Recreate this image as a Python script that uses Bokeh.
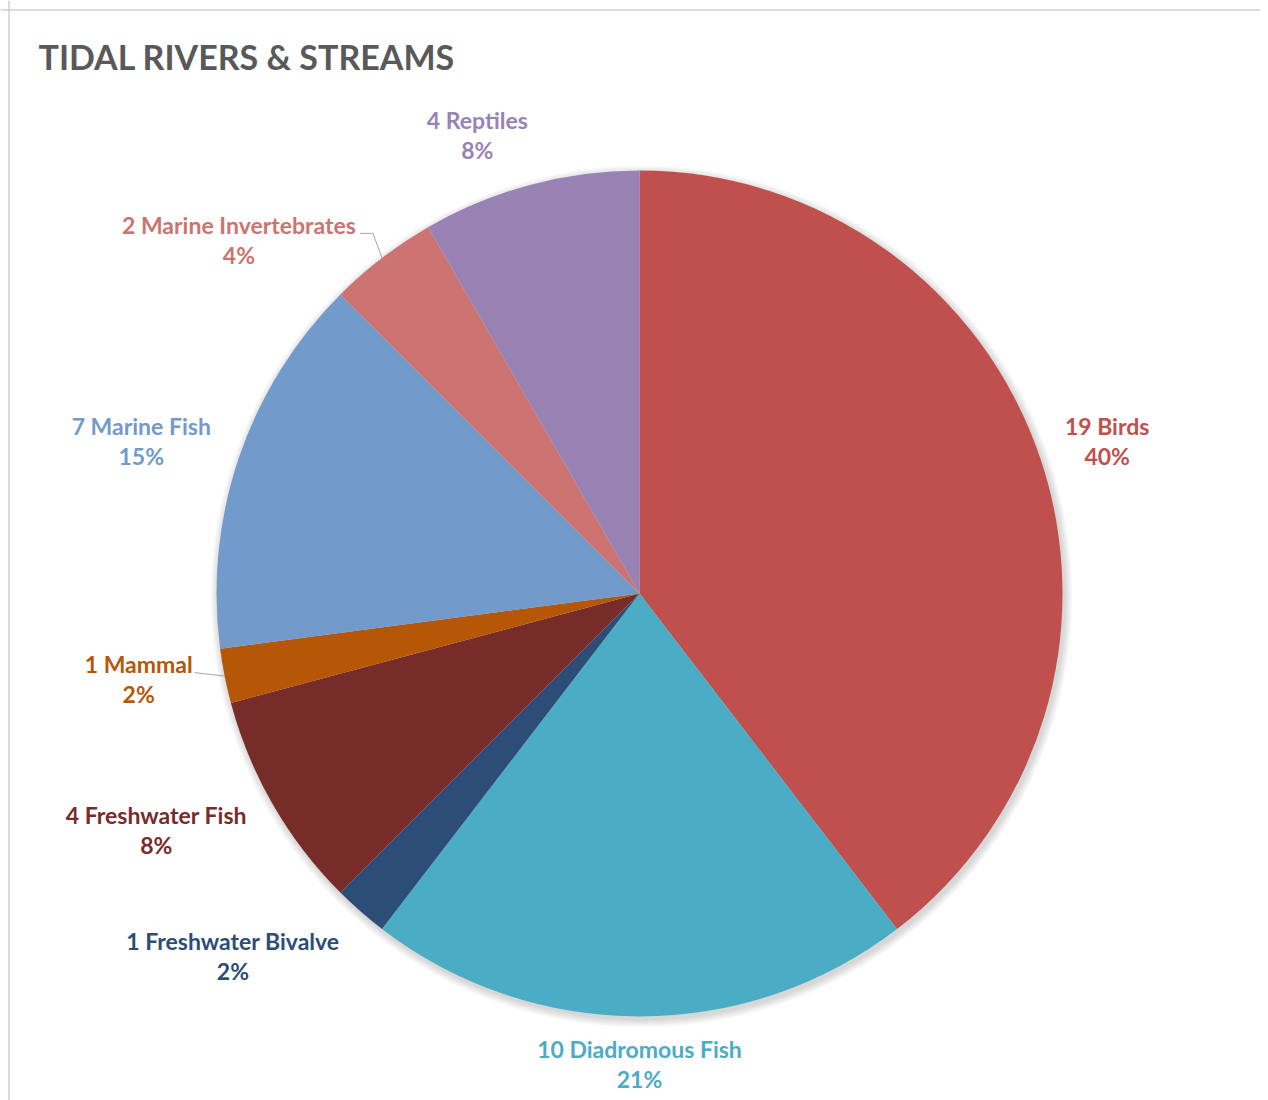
import math
from bokeh.plotting import figure
from bokeh.models import Range1d, Span
from bokeh.core.properties import value
from bokeh.embed import file_html
from bokeh.resources import INLINE

# ---- data ----
categories = ["Birds", "Diadromous Fish", "Freshwater Bivalve", "Freshwater Fish",
              "Mammal", "Marine Fish", "Marine Invertebrates", "Reptiles"]
counts = [19, 10, 1, 4, 1, 7, 2, 4]
colors = ["#C0504D", "#4BACC6", "#2C4D75", "#772C2A",
          "#B65708", "#729ACA", "#CD7371", "#9983B5"]
title_text = "TIDAL RIVERS & STREAMS"

# ---- layout ----
W, H = 1260, 1100
CX, CY, R = 639, H - 593, 423
# label placement: (angle offset from slice middle in degrees, distance from centre)
label_layout = [(0.65, 492), (0, 470), (7.0, 545), (3.9, 538),
                (1.6, 508), (-1.75, 521), (-11.1, 534), (-4.5, 486)]
# leader lines: index -> (start offset, elbow offset) relative to label centre
leaders = {6: [(121, 7), (134, 7)], 4: [(56, 6), (56, 6)]}
FONT = "Lato"
LABEL_SIZE = "23px"

p = figure(width=W, height=H, output_backend="svg", toolbar_location=None,
           x_range=Range1d(0, W), y_range=Range1d(0, H),
           min_border=0, min_border_left=0, min_border_right=0,
           min_border_top=0, min_border_bottom=0)
p.axis.visible = False
p.grid.visible = False
p.outline_line_color = None
p.background_fill_color = "white"
p.border_fill_color = "white"

# chart border (top & left)
p.add_layout(Span(location=H - 9.5, dimension="width", line_color="#D0D0D0", line_width=1.5))
p.add_layout(Span(location=8.5, dimension="height", line_color="#D0D0D0", line_width=1.5))

total = sum(counts)
# soft shadow
for k in range(1, 9):
    p.circle(x=[CX + 2], y=[CY - 3], radius=R + k, fill_color="#000000",
             fill_alpha=0.018, line_color=None)

cum = 0
starts, ends, mids = [], [], []
for v in counts:
    t1 = cum / total * 2 * math.pi
    cum += v
    t2 = cum / total * 2 * math.pi
    starts.append(math.pi / 2 - t2)
    ends.append(math.pi / 2 - t1)
    mids.append((t1 + t2) / 2)

p.wedge(x=CX, y=CY, radius=R, start_angle=starts, end_angle=ends,
        fill_color=colors, line_color=None, direction="anticlock")

# labels
for i, (cat, v) in enumerate(zip(categories, counts)):
    da, dist = label_layout[i]
    th = mids[i] + math.radians(da)
    lx = CX + dist * math.sin(th)
    ly = CY + dist * math.cos(th)
    pct = round(100 * v / total)
    p.text(x=[lx], y=[ly + 15], text=[f"{v} {cat}"], text_color=colors[i],
           text_font=value(FONT), text_font_style="bold", text_font_size=LABEL_SIZE,
           text_align="center", text_baseline="middle")
    p.text(x=[lx], y=[ly - 15], text=[f"{pct}%"], text_color=colors[i],
           text_font=value(FONT), text_font_style="bold", text_font_size=LABEL_SIZE,
           text_align="center", text_baseline="middle")
    if i in leaders:
        (sx, sy), (ex, ey) = leaders[i]
        edge_x = CX + R * math.sin(mids[i])
        edge_y = CY + R * math.cos(mids[i])
        p.line(x=[lx + sx, lx + ex, edge_x], y=[ly + sy, ly + ey, edge_y],
               line_color="#A6A6A6", line_width=1)

# title
p.text(x=[38], y=[H - 56], text=[title_text], text_color="#595959",
       text_font=value(FONT), text_font_style="bold", text_font_size="34px",
       text_align="left", text_baseline="middle")

open("out.html", "w").write(file_html(p, INLINE))
